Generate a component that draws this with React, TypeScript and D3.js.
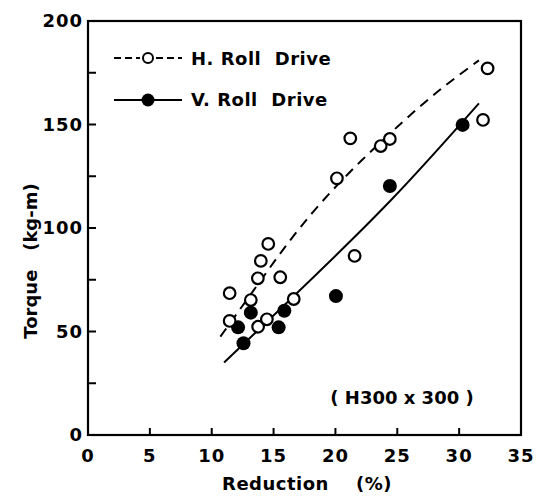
import React from "react";
import * as d3 from "d3";

const hRollX = [14.57, 13.97, 13.73, 15.54, 11.45, 13.16, 16.63, 11.45, 13.75, 14.46, 21.55, 32.3, 31.93, 21.2, 23.66, 24.4, 20.12];
const hRollY = [92.3, 84.1, 75.7, 76.2, 68.5, 65.2, 65.7, 55.1, 52.3, 55.9, 86.5, 177.1, 152.2, 143.3, 139.6, 143, 124];
const vRollX = [13.16, 12.13, 12.57, 15.87, 15.41, 20.04, 30.28, 24.4];
const vRollY = [59.1, 52, 44.3, 60, 52, 67.1, 149.8, 120.3];

const hCurveX = [10.7, 14, 17.2, 21, 25.3, 28.5, 31.6];
const hCurveY = [47.5, 75, 100.6, 126, 150.5, 167, 181];
const vCurveX = [11, 17, 24.5, 31.6];
const vCurveY = [35, 69.2, 113.5, 160.2];

const xTicks = [0, 5, 10, 15, 20, 25, 30, 35];
const yTicks = [0, 50, 100, 150, 200];
const yMinorTicks = [25, 75, 125, 175];

const W = 545;
const H = 496;
const FONT = "'DejaVu Sans', sans-serif";

export default function App() {
  const x = d3.scaleLinear().domain([0, 35]).range([88, 521]);
  const y = d3.scaleLinear().domain([0, 200]).range([435, 21]);
  const line = d3
    .line<[number, number]>()
    .x((d) => x(d[0]))
    .y((d) => y(d[1]))
    .curve(d3.curveNatural);
  const hPts = hCurveX.map((v, i) => [v, hCurveY[i]] as [number, number]);
  const vPts = vCurveX.map((v, i) => [v, vCurveY[i]] as [number, number]);

  const txt = { fontFamily: FONT, fontSize: 18, fontWeight: 700 as const };

  return (
    <svg
      width={W}
      height={H}
      style={{ position: "absolute", left: 0, top: 0, background: "#fff" }}
    >
      <rect x={0} y={0} width={W} height={H} fill="#fff" />
      <rect
        x={x(0)}
        y={y(200)}
        width={x(35) - x(0)}
        height={y(0) - y(200)}
        fill="none"
        stroke="#000"
        strokeWidth={2.2}
      />
      {xTicks.slice(1, -1).map((t) => (
        <line key={"xt" + t} x1={x(t)} x2={x(t)} y1={y(0)} y2={y(0) - 7} stroke="#000" strokeWidth={2} />
      ))}
      {[...yTicks.slice(1, -1), ...yMinorTicks].map((t) => (
        <line key={"yt" + t} x1={x(0)} x2={x(0) + 8} y1={y(t)} y2={y(t)} stroke="#000" strokeWidth={2} />
      ))}
      {xTicks.map((t) => (
        <text key={"xl" + t} x={x(t)} y={462} textAnchor="middle" {...txt} letterSpacing={1}>
          {t}
        </text>
      ))}
      {yTicks.map((t) => (
        <text key={"yl" + t} x={83} y={y(t) + 6} textAnchor="end" {...txt} letterSpacing={1}>
          {t}
        </text>
      ))}
      <text x={307} y={490} textAnchor="middle" {...txt} letterSpacing={0.5} style={{ whiteSpace: "pre" }}>
        {"Reduction    (%)"}
      </text>
      <text
        transform={`translate(37,261) rotate(-90)`}
        textAnchor="middle"
        {...txt}
        style={{ whiteSpace: "pre" }}
      >
        {"Torque   (kg-m)"}
      </text>
      <text x={402} y={404} textAnchor="middle" {...txt} style={{ whiteSpace: "pre" }}>
        {"( H300 x 300 )"}
      </text>

      <path d={line(hPts) || ""} fill="none" stroke="#000" strokeWidth={2} strokeDasharray="10,7" />
      <path d={line(vPts) || ""} fill="none" stroke="#000" strokeWidth={2} />

      {vRollX.map((v, i) => (
        <circle key={"v" + i} cx={x(v)} cy={y(vRollY[i])} r={7} fill="#000" />
      ))}
      {hRollX.map((v, i) => (
        <circle key={"h" + i} cx={x(v)} cy={y(hRollY[i])} r={5.8} fill="#fff" stroke="#000" strokeWidth={2.2} />
      ))}

      <line x1={114} x2={140} y1={58} y2={58} stroke="#000" strokeWidth={2} strokeDasharray="7,4" />
      <line x1={156} x2={182} y1={58} y2={58} stroke="#000" strokeWidth={2} strokeDasharray="7,4" />
      <circle cx={148} cy={58} r={5} fill="#fff" stroke="#000" strokeWidth={2} />
      <text x={191} y={65} {...txt} letterSpacing={0.5} style={{ whiteSpace: "pre" }}>
        {"H. Roll  Drive"}
      </text>
      <line x1={114} x2={182} y1={100} y2={100} stroke="#000" strokeWidth={2} />
      <circle cx={148} cy={100} r={6.5} fill="#000" />
      <text x={191} y={106} {...txt} letterSpacing={0.5} style={{ whiteSpace: "pre" }}>
        {"V. Roll  Drive"}
      </text>
    </svg>
  );
}
